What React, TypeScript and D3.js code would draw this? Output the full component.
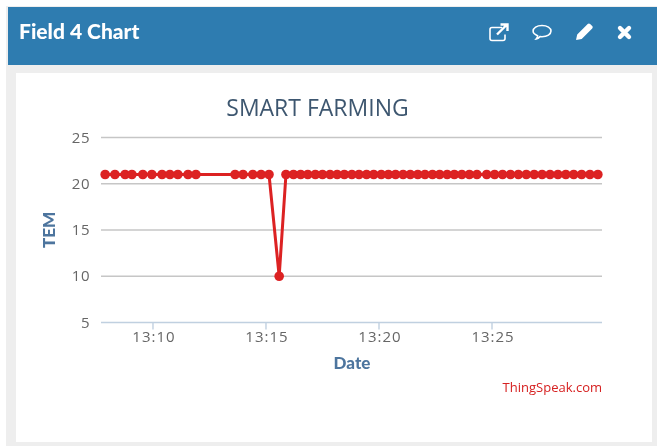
import React from "react";
import * as d3 from "d3";

const chartTitle = "SMART FARMING";
const panelTitle = "Field 4 Chart";
const yTitle = "TEM";
const xTitle = "Date";
const credit = "ThingSpeak.com";
const yTicks = [5, 10, 15, 20, 25];
const xTickTimes = ["13:10:00", "13:15:00", "13:20:00", "13:25:00"];
const xDomain = ["13:07:42", "13:29:52"];
const yDomain = [5, 25];

const times = [
  "13:07:53", "13:08:19", "13:08:46", "13:09:04", "13:09:33", "13:09:57", "13:10:24", "13:10:45",
  "13:11:06", "13:11:33", "13:11:54", "13:13:38", "13:13:59", "13:14:25", "13:14:47", "13:15:08",
  "13:15:35", "13:15:53", "13:16:13", "13:16:32", "13:16:51", "13:17:11", "13:17:30", "13:17:50",
  "13:18:09", "13:18:28", "13:18:48", "13:19:07", "13:19:27", "13:19:46", "13:20:06", "13:20:25",
  "13:20:44", "13:21:04", "13:21:23", "13:21:43", "13:22:02", "13:22:22", "13:22:41", "13:23:01",
  "13:23:20", "13:23:40", "13:24:00", "13:24:20", "13:24:46", "13:25:07", "13:25:28", "13:25:49",
  "13:26:10", "13:26:31", "13:26:52", "13:27:13", "13:27:34", "13:27:55", "13:28:16", "13:28:37",
  "13:28:58", "13:29:20", "13:29:41",
];
const values = [
  21, 21, 21, 21, 21, 21, 21, 21, 21, 21, 21, 21, 21, 21, 21, 21,
  10, 21, 21, 21, 21, 21, 21, 21, 21, 21, 21, 21, 21, 21, 21, 21,
  21, 21, 21, 21, 21, 21, 21, 21, 21, 21, 21, 21, 21, 21, 21, 21,
  21, 21, 21, 21, 21, 21, 21, 21, 21, 21, 21,
];

const parse = d3.timeParse("%H:%M:%S");
const fmt = d3.timeFormat("%H:%M");
const t = (s: string) => parse(s) as Date;

const x = d3.scaleTime().domain(xDomain.map(t)).range([101, 602]);
const y = d3.scaleLinear().domain(yDomain).range([322.5, 137.5]);
const line = d3
  .line<number>()
  .x((_, i) => x(t(times[i])))
  .y((d) => y(d));

const ui = "'Open Sans', sans-serif";
const heading = "Lato, sans-serif";

export default function App() {
  return (
    <svg
      width={657}
      height={446}
      viewBox="0 0 657 446"
      style={{ position: "fixed", left: 0, top: 0, display: "block" }}
    >
      <defs>
        <filter id="soft" x="-5%" y="-5%" width="110%" height="110%">
          <feGaussianBlur stdDeviation="0.45" />
        </filter>
      </defs>
      <rect width={657} height={446} fill="#ffffff" />
      <g filter="url(#soft)">
        <rect x={6} y={6} width={651} height={440} fill="#eeeeee" />
        <rect x={8} y={7} width={649} height={58} fill="#2d7bb0" />
        <rect x={16} y={73} width={636} height={369} fill="#ffffff" />
        <text x={19} y={39} fontFamily={heading} fontWeight={900} fontSize={21} fill="#ffffff">
          {panelTitle}
        </text>

        <g stroke="#ffffff" fill="none" strokeWidth={1.6}>
          <path d="M502 27.5h-10a2 2 0 0 0-2 2v9a2 2 0 0 0 2 2h11a2 2 0 0 0 2-2v-4" />
          <path d="M497 34.5l9-9M500.5 24.5h7v6.5" strokeWidth={2.4} />
          <path d="M542 25.5c5.2 0 9 2.4 9 5.6s-3.8 5.6-9 5.6c-.7 0-1.4 0-2-.1-1 1.1-2.2 2-3.8 2.3.8-1 1.3-2 1.4-3.2-2.7-1-4.5-2.7-4.5-4.6 0-3.2 3.7-5.6 8.9-5.6z" />
        </g>
        <path d="M576 40l1.2-5.5 10.5-10.5c.7-.7 1.7-.7 2.4 0l2.1 2.1c.7.7.7 1.7 0 2.4l-10.5 10.5z" fill="#ffffff" />
        <path d="M620 28l9 9M629 28l-9 9" stroke="#ffffff" strokeWidth={4.4} strokeLinecap="round" />

        <text x={317.5} y={116} textAnchor="middle" fontFamily={ui} fontSize={23} fill="#3e576f">
          {chartTitle}
        </text>

        {yTicks.filter((v) => v !== 5).map((v) => (
          <line key={v} x1={101} x2={602} y1={y(v)} y2={y(v)} stroke="#c6c6c6" strokeWidth={1.6} />
        ))}
        <line x1={101} x2={602} y1={y(5)} y2={y(5)} stroke="#c0d0e0" strokeWidth={1.6} />
        {yTicks.map((v) => (
          <text key={v} x={90} y={y(v) + 5} textAnchor="end" fontFamily={ui} fontSize={15} letterSpacing={0.5} fill="#666666">
            {v}
          </text>
        ))}
        {xTickTimes.map((s) => (
          <g key={s}>
            <line x1={x(t(s))} x2={x(t(s))} y1={y(5)} y2={y(5) + 7} stroke="#c0d0e0" strokeWidth={1.4} />
            <text x={x(t(s)) + 1} y={342} textAnchor="middle" fontFamily={ui} fontSize={15} letterSpacing={1} fill="#666666">
              {fmt(t(s))}
            </text>
          </g>
        ))}

        <text
          transform="translate(55 230) rotate(-90)"
          textAnchor="middle"
          fontFamily={heading}
          fontWeight={900}
          fontSize={17}
          fill="#4d759e"
        >
          {yTitle}
        </text>
        <text x={352} y={369} textAnchor="middle" fontFamily={heading} fontWeight={900} fontSize={17} fill="#4d759e">
          {xTitle}
        </text>
        <text x={602} y={392} textAnchor="end" fontFamily={ui} fontSize={13} fill="#d62020">
          {credit}
        </text>

        <path d={line(values) ?? ""} fill="none" stroke="#dc2024" strokeWidth={3} strokeLinejoin="round" />
        {values.map((v, i) => (
          <circle key={times[i]} cx={x(t(times[i]))} cy={y(v)} r={4.8} fill="#dc2024" />
        ))}
      </g>
    </svg>
  );
}
